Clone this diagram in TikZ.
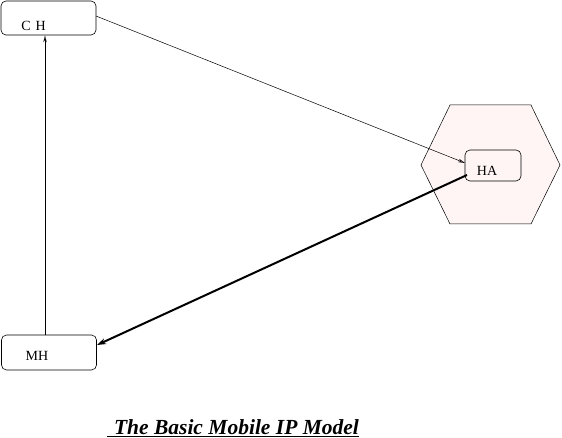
\documentclass[tikz,border=0pt]{standalone}
\usepackage{fontspec}
\setmainfont{Liberation Serif}
\usetikzlibrary{arrows.meta}

\begin{document}
\begin{tikzpicture}[x=1pt, y=-1pt,
  host/.style={draw=black, rounded corners=5pt, minimum width=95pt, minimum height=34pt, inner sep=0pt, line width=0.6pt},
  hlabel/.style={font=\fontsize{14}{16}\selectfont, inner sep=0pt},
  homenet/.style={draw=black, fill=red!4, line width=0.5pt},
  thin/.style={line width=0.5pt, -{Stealth[length=7pt, width=3.5pt, open]}},
  thick/.style={line width=2pt, -{Stealth[length=9pt, width=6pt]}}]
\useasboundingbox (0,0) rectangle (562,438);
% home network (hexagon)
\filldraw[homenet] (450,105) -- (531,105) -- (560,165) -- (531,224) -- (450,224) -- (421,165) -- cycle;
% hosts
\node[host] (ch) at (48.5,18) {};
\node[hlabel] (chtext) at (33.5,26) {C\hspace{5pt}H};
\node[host, minimum width=56pt, minimum height=31pt] (ha) at (493,165.5) {};
\node[hlabel] (hatext) at (487,171) {HA};
\node[host, minimum height=35pt] (mh) at (49,352.5) {};
\node[hlabel] (mhtext) at (37,356) {MH};
% connections
\coordinate (chout) at (96,16);
\coordinate (hain) at (465,163);
\draw[thin] (chout) -- (hain);
\draw[thin] (mh.north -| 45,0) -- (ch.south -| 45,0);
\coordinate (haout) at (467,175);
\coordinate (mhin) at (97,345);
\draw[thick] (haout) -- (mhin);
% caption
\node[font=\fontsize{21.5}{24}\selectfont\bfseries\itshape, inner sep=0pt] (caption) at (233,428)
 {\underline{\hspace*{7pt}The Basic Mobile IP Model}};
\end{tikzpicture}
\end{document}
